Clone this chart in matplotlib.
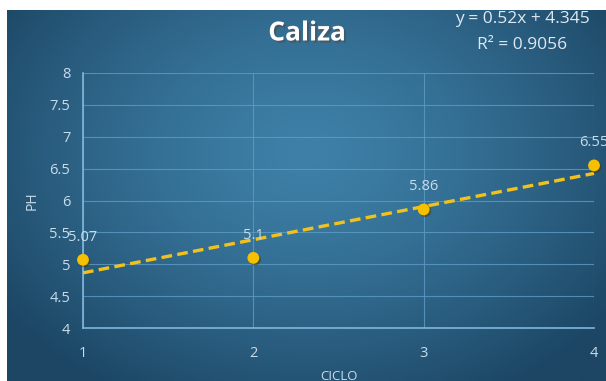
import numpy as np
import matplotlib
matplotlib.use("Agg")
import matplotlib.pyplot as plt
import matplotlib.patheffects as pe

# Data
ciclo = [1, 2, 3, 4]
ph = [5.07, 5.1, 5.86, 6.55]
point_labels = ["5.07", "5.1", "5.86", "6.55"]
y_ticks = [4, 4.5, 5, 5.5, 6, 6.5, 7, 7.5, 8]
y_tick_labels = ["4", "4.5", "5", "5.5", "6", "6.5", "7", "7.5", "8"]

W, H = 606, 381
fig = plt.figure(figsize=(W / 100, H / 100), dpi=100)
fig.patch.set_facecolor("white")

# Radial blue gradient background
bg = fig.add_axes([7 / W, 0, 1 - 7 / W, 1 - 10 / H])
bg.set_axis_off()
ny, nx = 200, 320
yy, xx = np.mgrid[0:ny, 0:nx]
cx, cy = 0.50 * nx, 0.38 * ny
r = np.sqrt(((xx - cx) / (0.62 * nx)) ** 2 + ((yy - cy) / (0.75 * ny)) ** 2)
r = np.clip(r, 0, 1)
c_in = np.array([0x3e, 0x80, 0xa8]) / 255
c_out = np.array([0x1c, 0x46, 0x64]) / 255
t = (r ** 1.4)[..., None]
img = c_in * (1 - t) + c_out * t
bg.imshow(img, aspect="auto", extent=[0, 1, 0, 1], interpolation="bicubic")
bg.set_xlim(0, 1)
bg.set_ylim(0, 1)

# Plot area
L, R, T, B = 83, 594, 73, 328
ax = fig.add_axes([L / W, 1 - B / H, (R - L) / W, (B - T) / H])
ax.set_facecolor("none")
ax.set_xlim(1, 4)
ax.set_ylim(4, 8)

grid_col = "#5e9cc6"
tick_col = "#c9dcea"
ax.set_xticks(ciclo)
ax.set_xticklabels([str(c) for c in ciclo])
ax.set_yticks(y_ticks)
ax.set_yticklabels(y_tick_labels)
ax.grid(True, color=grid_col, linewidth=0.8, alpha=0.8)
ax.set_axisbelow(True)
for side in ["top", "right"]:
    ax.spines[side].set_visible(False)
for side in ["left", "bottom"]:
    ax.spines[side].set_color("#7fb6dc")
    ax.spines[side].set_linewidth(1.2)
ax.tick_params(length=0, colors=tick_col, labelsize=10.5)
ax.tick_params(axis="x", pad=13)
ax.tick_params(axis="y", pad=9)
for lab in ax.get_xticklabels() + ax.get_yticklabels():
    lab.set_fontfamily("Open Sans")

# Linear trend line
slope, intercept = np.polyfit(ciclo, ph, 1)
xs = np.array([ciclo[0], ciclo[-1]])
ax.plot(xs, slope * xs + intercept, color="#f2c21c", linewidth=2.4,
        dashes=(3.2, 1.6), clip_on=False, zorder=3)

# Points with soft shadow
ax.plot(ciclo, ph, "o", color="#f5c000", markersize=8.5, markeredgewidth=0,
        clip_on=False, zorder=4,
        path_effects=[pe.SimplePatchShadow(offset=(1.2, -1.2), alpha=0.5),
                      pe.Normal()])

for x, y, s in zip(ciclo, ph, point_labels):
    ax.annotate(s, (x, y), xytext=(0, 11), textcoords="offset points",
                ha="center", va="bottom", color=tick_col, fontsize=10.5,
                fontfamily="Open Sans", annotation_clip=False)

ax.set_xlabel("CICLO", color=tick_col, fontsize=9.5, fontfamily="Open Sans")
ax.xaxis.set_label_coords(0.5, -0.165)
ax.set_ylabel("PH", color=tick_col, fontsize=10, fontfamily="Open Sans")
ax.yaxis.set_label_coords(-0.085, 0.5)

# Title and equation
fig.text(307 / W, 1 - 33 / H, "Caliza", ha="center", va="center",
         color="white", fontsize=19, fontweight="bold", fontfamily="Open Sans",
         path_effects=[pe.SimplePatchShadow(offset=(1.5, -1.5), alpha=0.6),
                       pe.Normal()])
fig.text(522 / W, 1 - 19 / H, "y = %.2fx + %.3f" % (slope, intercept),
         ha="center", va="center", color="#dde9f2", fontsize=12.5,
         fontfamily="Open Sans")
pred = np.polyval([slope, intercept], ciclo)
r2 = 1 - np.sum((np.array(ph) - pred) ** 2) / np.sum((np.array(ph) - np.mean(ph)) ** 2)
fig.text(522 / W, 1 - 45 / H, "R² = %.4f" % r2,
         ha="center", va="center", color="#dde9f2", fontsize=12.5,
         fontfamily="Open Sans")

fig.savefig("out.png", dpi=100, facecolor=fig.get_facecolor())
